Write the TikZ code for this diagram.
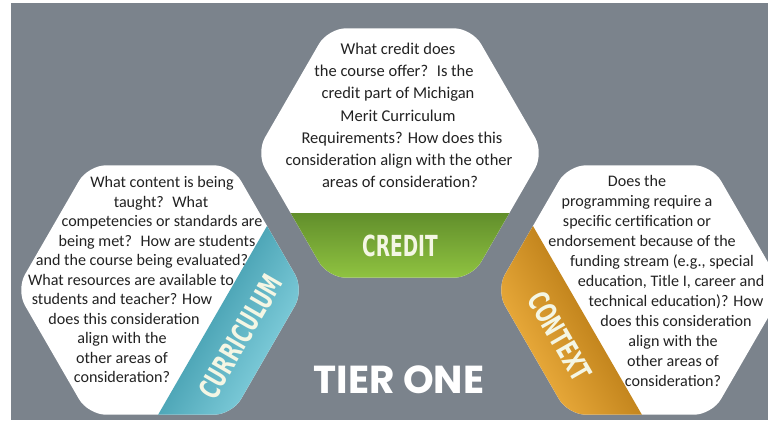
\documentclass[tikz,border=0pt]{standalone}
\usepackage{fontspec}
\usepackage{graphicx}
\setmainfont{Carlito}
\newfontfamily\tierfont{Poppins}
\newfontfamily\lblfont{DejaVu Sans}
\definecolor{bg}{HTML}{7B838C}
\definecolor{greenA}{HTML}{628F2C}
\definecolor{greenB}{HTML}{93C742}
\definecolor{blueA}{HTML}{4FA7B8}
\definecolor{blueB}{HTML}{7CCAD8}
\definecolor{orangeA}{HTML}{C4861E}
\definecolor{orangeB}{HTML}{E8A93A}
\definecolor{txt}{HTML}{222222}
\definecolor{lbl}{HTML}{F4F6E4}
\tikzset{
  hexshape/.style={rounded corners=18pt},
  bandlabel/.style={font=\lblfont\bfseries\fontsize{29}{29}\selectfont, text=lbl, inner sep=0pt},
  bodytext/.style={font=\fontsize{16.1}{18}\selectfont, text=txt, anchor=base, inner sep=0pt},
  centertext/.style={font=\fontsize{16.5}{18}\selectfont, text=txt, anchor=base, inner sep=0pt},
}
\newcommand{\hexpath}{(144,0) -- (72,124.7) -- (-72,124.7) -- (-144,0) -- (-72,-124.7) -- (72,-124.7) -- cycle}
% #1 cx, #2 cy, #3 angle, #4 inner colour, #5 outer colour, #6 label, #7 name
\newcommand{\hexband}[7]{%
  \begin{scope}[transform canvas={shift={(#1,#2)},rotate=#3}]
    \fill[white, hexshape] \hexpath;
    \begin{scope}
      \clip[hexshape] \hexpath;
      \shade[top color=#4, bottom color=#5] (-160,60.7) rectangle (160,130);
    \end{scope}
    \node[bandlabel] (#7) at (0,92.7) {\scalebox{0.64}[1]{#6}};
  \end{scope}}
\begin{document}
\begin{tikzpicture}[x=1pt,y=-1pt]
\useasboundingbox (0,0) rectangle (768,423);
\fill[white] (0,0) rectangle (768,423);
\fill[bg] (11,3) rectangle (768,420);

\hexband{400}{153}{0}{greenA}{greenB}{CREDIT}{credit}
\hexband{160}{290}{60}{blueA}{blueB}{CURRICULUM}{curriculum}
\hexband{640}{290}{-60}{orangeA}{orangeB}{CONTEXT}{context}

% centre hexagon text
\node[centertext] (cr1) at (398,54.5) {What credit does};
\node[centertext] (cr2) at (394,76.7) {the course offer?~ Is the};
\node[centertext] (cr3) at (398,98.9) {credit part of Michigan};
\node[centertext] (cr4) at (398,121.1) {Merit Curriculum};
\node[centertext] (cr5) at (402,143.3) {Requirements? How does this};
\node[centertext] (cr6) at (399,165.5) {consideration align with the other};
\node[centertext] (cr7) at (400,187.7) {areas of consideration?};

% curriculum text
\node[bodytext] (cu1) at (162,187.5) {What content is being};
\node[bodytext] (cu2) at (161,207) {taught?~ What};
\node[bodytext] (cu3) at (162,226.5) {competencies or standards are};
\node[bodytext] (cu4) at (157,246) {being met?~ How are students};
\node[bodytext] (cu5) at (142,265.5) {and the course being evaluated?};
\node[bodytext] (cu6) at (131,285) {What resources are available to};
\node[bodytext] (cu7) at (122,304.5) {students and teacher? How};
\node[bodytext] (cu8) at (124,324) {does this consideration};
\node[bodytext] (cu9) at (122,343.5) {align with the};
\node[bodytext] (cu10) at (122,363) {other areas of};
\node[bodytext] (cu11) at (122,382.5) {consideration?};

% context text
\node[bodytext] (co1) at (637,186.5) {Does the};
\node[bodytext] (co2) at (637,206.5) {programming require a};
\node[bodytext] (co3) at (637,226.5) {specific certification or};
\node[bodytext] (co4) at (642,246.5) {endorsement because of the};
\node[bodytext] (co5) at (662,266.5) {funding stream (e.g., special};
\node[bodytext] (co6) at (671,286.5) {education, Title I, career and};
\node[bodytext] (co7) at (676,306.5) {technical education)? How};
\node[bodytext] (co8) at (676,326.5) {does this consideration};
\node[bodytext] (co9) at (673,346.5) {align with the};
\node[bodytext] (co10) at (673,366.5) {other areas of};
\node[bodytext] (co11) at (673,386.5) {consideration?};

\node[font=\tierfont\bfseries\fontsize{39}{39}\selectfont, text=white, inner sep=0pt] (tier) at (399,380) {TIER ONE};
\end{tikzpicture}
\end{document}
